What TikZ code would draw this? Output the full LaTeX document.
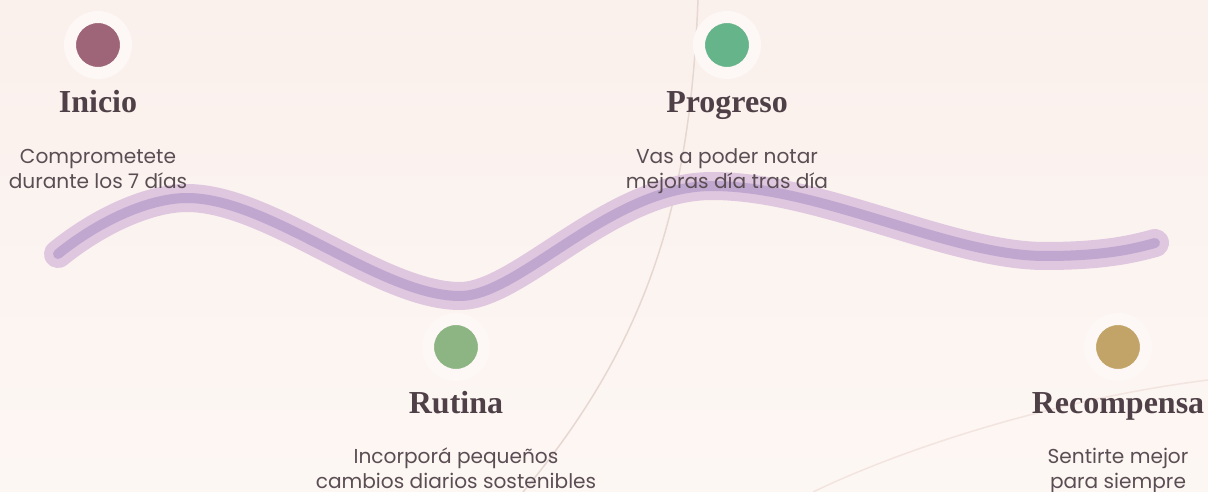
\documentclass[tikz,border=0pt]{standalone}
\usepackage{fontspec}
\setmainfont{Liberation Serif}
\newfontfamily\descfont{Poppins}
\usetikzlibrary{positioning}

\definecolor{bgtop}{HTML}{FAF0EC}
\definecolor{bgbot}{HTML}{FDF7F4}
\definecolor{halo}{HTML}{FDF8F6}
\definecolor{wavewide}{HTML}{DFC7DF}
\definecolor{wavecore}{HTML}{C0A7CF}
\definecolor{titlecol}{HTML}{4F4047}
\definecolor{desccol}{HTML}{5B4D54}
\definecolor{arcA}{HTML}{E6D7D0}
\definecolor{arcB}{HTML}{F3E4DF}
\definecolor{plum}{HTML}{9E6478}
\definecolor{sage}{HTML}{8DB583}
\definecolor{jade}{HTML}{66B48A}
\definecolor{gold}{HTML}{C2A469}

\begin{document}
\begin{tikzpicture}[
  x=0.75pt, y=-0.75pt,
  dot/.style={circle, draw=halo, line width=9pt, minimum size=42pt, inner sep=0pt},
  title/.style={font=\fontsize{24}{28}\selectfont\bfseries, text=titlecol, inner sep=0pt},
  desc/.style={font=\descfont\fontsize{15.1}{18.75}\selectfont, text=desccol, align=center, inner sep=0pt},
  wave/.style={line cap=round, line join=round}
]
\useasboundingbox (0,0) rectangle (1208,492);
\shade[top color=bgtop, bottom color=bgbot] (0,0) rectangle (1208,492);
% faint background arcs
\draw[arcA, line width=1.1pt] (698,0) .. controls (690,200) and (650,340) .. (523,492);
\draw[arcB, line width=1.1pt] (813,492) .. controls (900,450) and (1050,400) .. (1208,380);
% the path
\foreach \w/\c in {21pt/wavewide, 7.5pt/wavecore}
  \draw[wave, \c, line width=\w] (58,254) .. controls (100,220) and (150,198) .. (187,198)
    .. controls (270,198) and (380,296) .. (460,296)
    .. controls (520,296) and (610,186) .. (712,186)
    .. controls (820,186) and (950,256) .. (1045,256)
    .. controls (1100,256) and (1130,250) .. (1155,243);
% steps
\node[dot, fill=plum] (ini) at (98,45) {};
\node[title, below=51pt of ini.center, anchor=base] (iniT) {Inicio};
\node[desc, below=56.25pt of iniT.base, anchor=base] (iniD) {Comprometete\\durante los 7 días};

\node[dot, fill=sage] (rut) at (456,347) {};
\node[title, below=49.5pt of rut.center, anchor=base] (rutT) {Rutina};
\node[desc, below=56.25pt of rutT.base, anchor=base] (rutD) {Incorporá pequeños\\cambios diarios sostenibles};

\node[dot, fill=jade] (pro) at (727,45) {};
\node[title, below=51pt of pro.center, anchor=base] (proT) {Progreso};
\node[desc, below=56.25pt of proT.base, anchor=base] (proD) {Vas a poder notar\\mejoras día tras día};

\node[dot, fill=gold] (rec) at (1118,347) {};
\node[title, below=49.5pt of rec.center, anchor=base] (recT) {Recompensa};
\node[desc, below=56.25pt of recT.base, anchor=base] (recD) {Sentirte mejor\\para siempre};
\end{tikzpicture}
\end{document}
